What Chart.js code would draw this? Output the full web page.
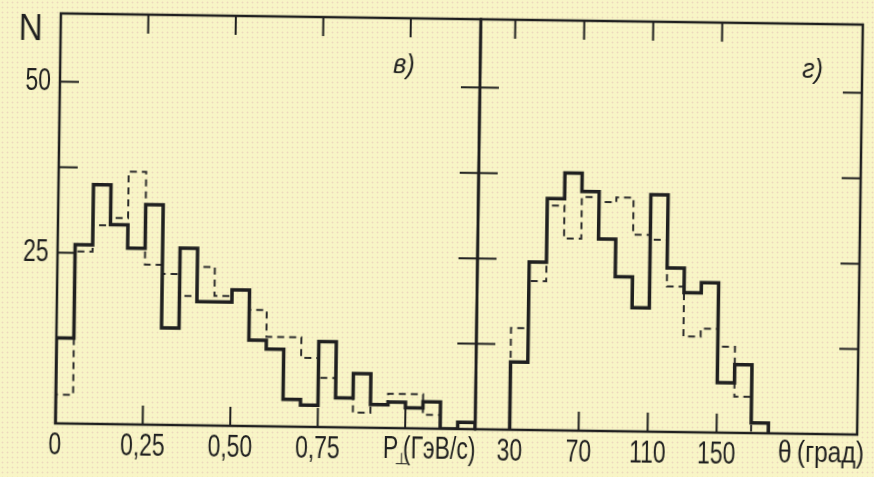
<!DOCTYPE html>
<html>
<head>
<meta charset="utf-8">
<script src="https://cdn.jsdelivr.net/npm/chart.js@4.4.0/dist/chart.umd.min.js"></script>
<style>
    html, body { margin: 0; padding: 0; }
    body {
        width: 874px; height: 477px; overflow: hidden;
        background-color: #f8f5c6;
        background-image: radial-gradient(circle, rgba(214, 150, 170, .3) 0.7px, transparent 1.2px);
        background-size: 5px 5px;
    }
    /* the scan is turned a little clockwise */
    #wrap { position: absolute; left: 0; top: 0; width: 874px; height: 477px;
            transform: rotate(0.8deg); transform-origin: 459px 224px; }
    canvas { position: absolute; left: 0; top: 0; }
</style>
</head>
<body>
<div id="wrap">
    <canvas id="chartP" width="874" height="477"></canvas>
    <canvas id="chartTheta" width="874" height="477"></canvas>
</div>
<script>
// в) transverse momentum, bins of 0.05 GeV/c starting at 0
const pBinStart = 0;
const pBinWidth = 0.05;
const pSolid  = [12.5, 26.2, 35.0, 29.2, 25.8, 32.2, 14.2, 25.9, 18.1, 18.1, 19.9, 12.6,
                 11.3, 4.0, 3.2, 12.5, 4.3, 7.9, 3.4, 3.8, 3.0, 3.9, 0, 1.0];
const pDashed = [4.2, 25.2, 29.1, 30.2, 37.0, 23.4, 22.1, 18.9, 23.2, 19.0, 19.9, 17.0,
                 13.1, 13.1, 10.1, 7.2, 4.3, 2.2, 3.4, 5.0, 5.0, 2.0];
const pTicks = [0.25, 0.5, 0.75, 1.0];
const pLabelTicks = [0, 0.25, 0.5, 0.75];

// г) angle, bins of 10 degrees starting at 30
const thBinStart = 30;
const thBinWidth = 10;
const thSolid  = [9.9, 24.6, 33.9, 37.7, 35.0, 28.1, 22.6, 18.1, 34.7, 24.0, 20.4, 21.9, 7.3, 10.0, 1.5];
const thDashed = [14.9, 21.8, 32.9, 28.1, 34.2, 33.5, 34.2, 28.8, 28.1, 21.3, 14.0, 15.2, 12.6, 5.3];
const thTicks = [30, 70, 110, 150];

// N axis
const nTicks = [12.5, 25, 37.5, 50];
const nLabelTicks = [25, 50];

const INK = '#1f1f1f';
const SANS = '"Liberation Sans", Arial, sans-serif';
const LABEL_FONT = '31px ' + SANS;
const SQUEEZE = 0.74;   // the lettering on the scan is narrow

function stepPoints(start, width, counts) {
    const pts = [{ x: start, y: 0 }];
    counts.forEach((c, i) => pts.push({ x: start + i * width, y: c }));
    pts.push({ x: start + counts.length * width, y: 0 });
    return pts;
}

function histSets(solid, dashed, start, width) {
    return [{
        data: stepPoints(start, width, solid),
        borderColor: INK, borderWidth: 3.5, stepped: true, pointRadius: 0
    }, {
        data: stepPoints(start, width, dashed),
        borderColor: '#2c2c2c', borderWidth: 2, borderDash: [7, 5], stepped: true, pointRadius: 0
    }];
}

function squeezed(ctx, text, x, y, font, sx, align) {
    ctx.save();
    ctx.font = font;
    ctx.textAlign = align || 'left';
    ctx.scale(sx, 1);
    ctx.fillText(text, x / sx, y);
    ctx.restore();
}

// frame with inward tick marks
const frameTicks = {
    id: 'frameTicks',
    afterDatasetsDraw(chart, args, opts) {
        const { ctx, chartArea: a, scales: { x, y } } = chart;
        const len = 19;
        ctx.save();
        ctx.strokeStyle = INK;
        ctx.lineWidth = 2.5;
        ctx.strokeRect(a.left, a.top, a.right - a.left, a.bottom - a.top);
        ctx.lineWidth = 2;
        ctx.beginPath();
        opts.xTicks.forEach(v => {
            const px = x.getPixelForValue(v);
            ctx.moveTo(px, a.top); ctx.lineTo(px, a.top + len);
            ctx.moveTo(px, a.bottom); ctx.lineTo(px, a.bottom - len);
        });
        opts.yTicks.forEach(v => {
            const py = y.getPixelForValue(v);
            ctx.moveTo(a.left, py); ctx.lineTo(a.left + len, py);
            ctx.moveTo(a.right, py); ctx.lineTo(a.right - len, py);
        });
        ctx.stroke();
        ctx.restore();
    }
};

// tick numbers, N, panel marks, axis names
const lettering = {
    id: 'lettering',
    afterDraw(chart, args, opts) {
        const { ctx, chartArea: a, scales: { x, y } } = chart;
        ctx.save();
        ctx.fillStyle = INK;
        ctx.textBaseline = 'middle';
        (opts.xLabels || []).forEach(v => {
            squeezed(ctx, opts.format(v), x.getPixelForValue(v), a.bottom + 22, LABEL_FONT, SQUEEZE, 'center');
        });
        (opts.yLabels || []).forEach(v => {
            squeezed(ctx, String(v), a.left - 9, y.getPixelForValue(v), LABEL_FONT, SQUEEZE, 'right');
        });
        opts.items.forEach(t => squeezed(ctx, t.text, t.x, t.y, t.font, t.sx || SQUEEZE, t.align));
        ctx.restore();
    }
};

const hiddenTicks = { display: false };

new Chart(document.getElementById('chartP'), {
    type: 'line',
    data: { datasets: histSets(pSolid, pDashed, pBinStart, pBinWidth) },
    plugins: [frameTicks, lettering],
    options: {
        responsive: false,
        animation: false,
        layout: { autoPadding: false, padding: { top: 19, right: 396, left: 0, bottom: 0 } },
        plugins: {
            legend: { display: false },
            tooltip: { enabled: false },
            frameTicks: { xTicks: pTicks, yTicks: nTicks },
            lettering: {
                xLabels: pLabelTicks,
                yLabels: nLabelTicks,
                format: v => v === 0 ? '0' : v.toFixed(2).replace('.', ','),
                items: [
                    { text: 'N', x: 28, y: 36, font: '37px ' + SANS, sx: 0.9, align: 'center' },
                    { text: 'в)', x: 391, y: 66, font: 'italic 28px ' + SANS, sx: 0.9 },
                    { text: 'P', x: 386, y: 450, font: LABEL_FONT },
                    { text: '⊥', x: 398, y: 461, font: '16px "DejaVu Sans", sans-serif', sx: 1 },
                    { text: '(ГэВ/с)', x: 406, y: 450, font: LABEL_FONT }
                ]
            }
        },
        scales: {
            x: {
                type: 'linear', min: 0, max: 1.2,
                afterFit: s => { s.height = 48; },
                grid: { display: false }, border: { display: false }, ticks: hiddenTicks
            },
            y: {
                min: 0, max: 60,
                afterFit: s => { s.width = 58; },
                grid: { display: false }, border: { display: false }, ticks: hiddenTicks
            }
        }
    }
});

new Chart(document.getElementById('chartTheta'), {
    type: 'line',
    data: { datasets: histSets(thSolid, thDashed, thBinStart, thBinWidth) },
    plugins: [frameTicks, lettering],
    options: {
        responsive: false,
        animation: false,
        layout: { autoPadding: false, padding: { top: 19, right: 14, left: 478, bottom: 0 } },
        plugins: {
            legend: { display: false },
            tooltip: { enabled: false },
            frameTicks: { xTicks: thTicks, yTicks: nTicks },
            lettering: {
                xLabels: thTicks,
                format: v => String(v),
                items: [
                    { text: 'г)', x: 800, y: 65, font: 'italic 28px ' + SANS, sx: 0.9 },
                    { text: 'θ', x: 781, y: 449, font: '31px ' + SANS, sx: 0.8 },
                    { text: '(град)', x: 800, y: 449, font: '30px ' + SANS, sx: 0.82 }
                ]
            }
        },
        scales: {
            x: {
                type: 'linear', min: 10, max: 231.5,
                afterFit: s => { s.height = 48; },
                grid: { display: false }, border: { display: false }, ticks: hiddenTicks
            },
            y: { display: false, min: 0, max: 60 }
        }
    }
});
</script>
</body>
</html>
